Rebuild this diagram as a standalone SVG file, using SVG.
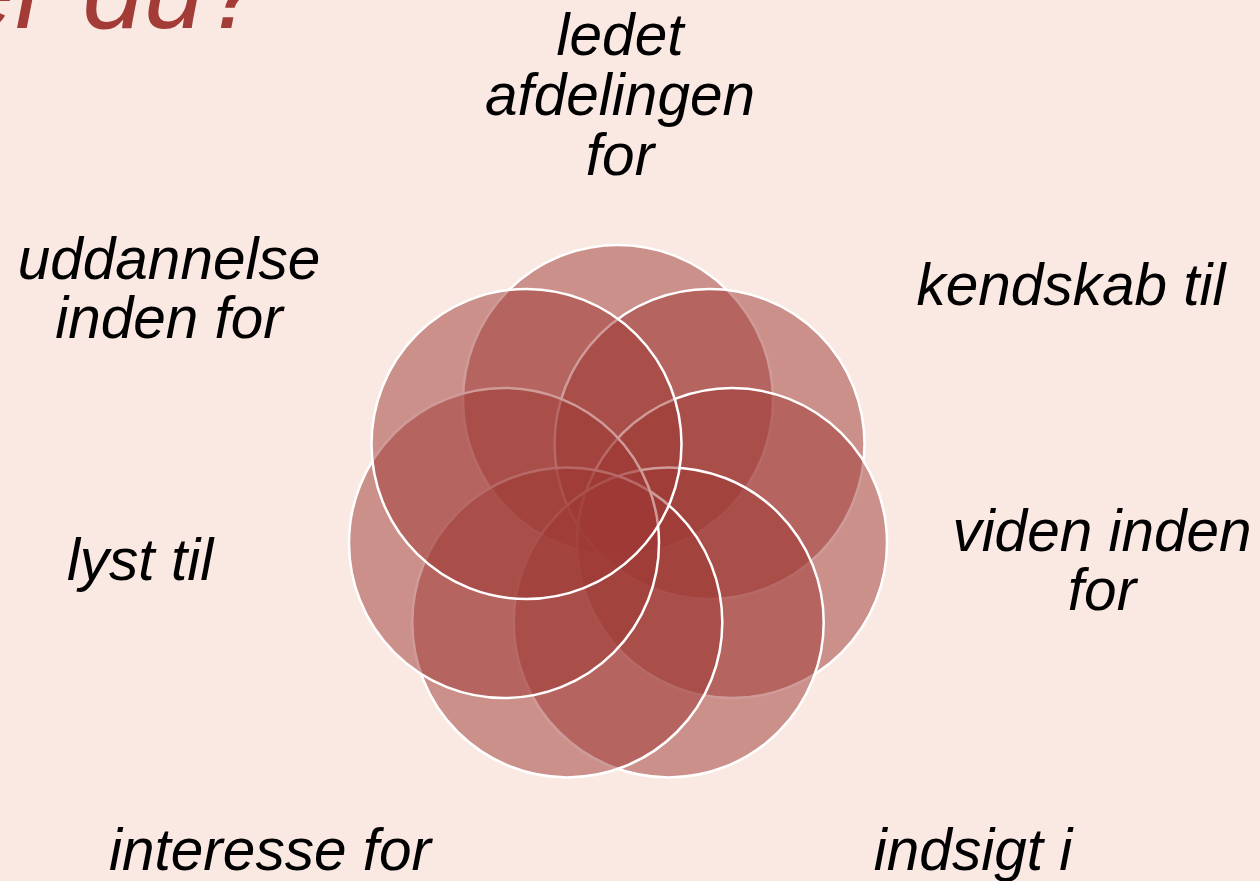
<svg xmlns="http://www.w3.org/2000/svg" width="1260" height="881" viewBox="0 0 1260 881">
<style>
.c{fill:#9E3834;fill-opacity:0.5;stroke:#FFFFFF;stroke-width:2.5}
.t{font-family:"Liberation Sans",Arial,sans-serif;font-style:italic;font-size:58.5px;fill:#000000;text-anchor:middle}
.title{font-family:"Liberation Sans",Arial,sans-serif;font-style:italic;font-size:110px;fill:#A33B37}
</style>
<rect width="1260" height="881" fill="#FAE8E2"/>
<text class="title" x="266" y="28" text-anchor="end">er du?</text>
<g id="node-top">
<circle class="c" cx="618" cy="400" r="155"/>
<text class="t"><tspan x="620" y="55">ledet</tspan><tspan x="620" y="115">afdelingen</tspan><tspan x="620" y="175">for</tspan></text>
</g>
<g id="node-upper-right">
<circle class="c" cx="709.5" cy="444" r="155"/>
<text class="t" x="1071" y="305">kendskab til</text>
</g>
<g id="node-right">
<circle class="c" cx="732" cy="543" r="155"/>
<text class="t"><tspan x="1102" y="551">viden inden</tspan><tspan x="1102" y="610">for</tspan></text>
</g>
<g id="node-lower-right">
<circle class="c" cx="668.7" cy="622.4" r="155"/>
<text class="t" x="973" y="870">indsigt i</text>
</g>
<g id="node-lower-left">
<circle class="c" cx="567.3" cy="622.4" r="155"/>
<text class="t" x="270" y="870">interesse for</text>
</g>
<g id="node-left">
<circle class="c" cx="504" cy="543" r="155"/>
<text class="t" x="140" y="580">lyst til</text>
</g>
<g id="node-upper-left">
<circle class="c" cx="526.5" cy="444" r="155"/>
<text class="t"><tspan x="169" y="279">uddannelse</tspan><tspan x="169" y="338">inden for</tspan></text>
</g>
<g id="connectors"/>
</svg>
